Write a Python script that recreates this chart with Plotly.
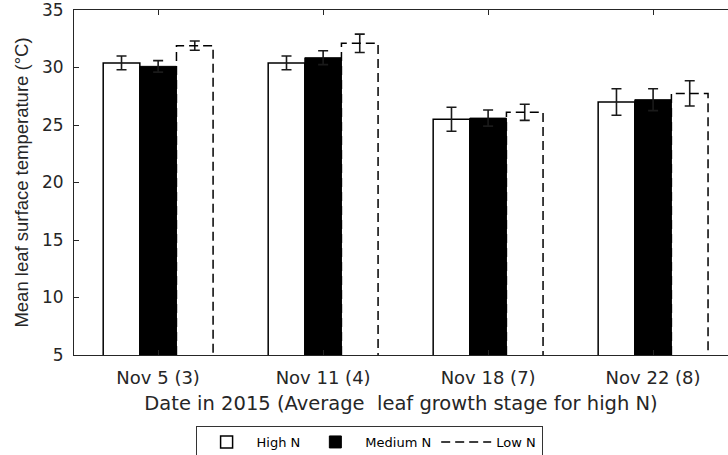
import plotly.graph_objects as go

categories = ["Nov 5 (3)", "Nov 11 (4)", "Nov 18 (7)", "Nov 22 (8)"]
high_n = [30.4, 30.4, 25.5, 27.0]
high_err = [0.6, 0.6, 1.05, 1.15]
medium_n = [30.1, 30.85, 25.6, 27.2]
medium_err = [0.5, 0.6, 0.7, 0.95]
low_n = [31.9, 32.1, 26.1, 27.75]
low_err = [0.4, 0.8, 0.7, 1.1]
y_ticks = [5, 10, 15, 20, 25, 30, 35]

xs = list(range(len(categories)))
bw = 0.222
axis_color = "#262626"
wide_font = "DejaVu Sans, Verdana, sans-serif"
narrow_font = "Liberation Sans, Arial, sans-serif"

def err(vals):
    return dict(type="data", array=vals, visible=True, color="#1a1a1a", thickness=1.6, width=5)

fig = go.Figure()
fig.add_trace(go.Bar(x=xs, y=high_n, width=bw, offset=-1.5 * bw, name="High N",
                     marker=dict(color="white", line=dict(color="black", width=1.5)),
                     error_y=err(high_err)))
fig.add_trace(go.Bar(x=xs, y=medium_n, width=bw, offset=-0.5 * bw, name="Medium N",
                     marker=dict(color="black", line=dict(color="black", width=1)),
                     error_y=err(medium_err)))
fig.add_trace(go.Bar(x=xs, y=low_n, width=bw, offset=0.5 * bw, name="Low N", showlegend=False,
                     marker=dict(color="rgba(255,255,255,0)", line=dict(width=0)),
                     error_y=err(low_err)))

# dashed outline of Low N bars, derived from the data
ox, oy = [], []
for i, v in zip(xs, low_n):
    xl = i + 0.5 * bw
    xr = i + 1.5 * bw
    ox += [xl, xl, xr, xr, None]
    oy += [5, v, v, 5, None]
fig.add_trace(go.Scatter(x=ox, y=oy, mode="lines", name="Low N",
                         line=dict(color="black", width=1.5, dash="9px,5px")))

fig.update_layout(
    width=728, height=455,
    margin=dict(l=74, r=0, t=10, b=100),
    paper_bgcolor="white", plot_bgcolor="white",
    barmode="overlay",
    font=dict(family=wide_font, size=17, color=axis_color),
    showlegend=True,
    legend=dict(orientation="h", xref="container", yref="container",
                x=0.507, xanchor="center", y=1 - 426 / 455, yanchor="top",
                bordercolor="#333333", borderwidth=1, bgcolor="white",
                font=dict(family=wide_font, size=13, color="black"),
                itemwidth=50, traceorder="normal", tracegroupgap=0),
)
fig.update_xaxes(
    range=[-0.51, 3.454], tickvals=xs, ticktext=categories,
    showline=True, linecolor=axis_color, linewidth=1, mirror="allticks",
    ticks="inside", ticklen=5, tickcolor=axis_color, showgrid=False, zeroline=False,
    ticklabelstandoff=6, ticklabeloverflow="allow",
    title=dict(text="Date in 2015 (Average  leaf growth stage for high N)", standoff=9,
               font=dict(family=wide_font, size=19.5, color=axis_color)),
    tickfont=dict(family=wide_font, size=18, color=axis_color),
)
fig.update_yaxes(
    range=[5, 35], tickvals=y_ticks,
    showline=True, linecolor=axis_color, linewidth=1, mirror=False,
    ticks="inside", ticklen=5, tickcolor=axis_color, showgrid=False, zeroline=False,
    ticklabelstandoff=6, ticklabeloverflow="allow",
    title=dict(text="Mean leaf surface temperature (°C)", standoff=8,
               font=dict(family=narrow_font, size=18.5, color=axis_color)),
    tickfont=dict(family=wide_font, size=17, color=axis_color),
)

fig.write_html("out.html", config={"displayModeBar": False},
               post_script="document.body.style.margin='0';")
